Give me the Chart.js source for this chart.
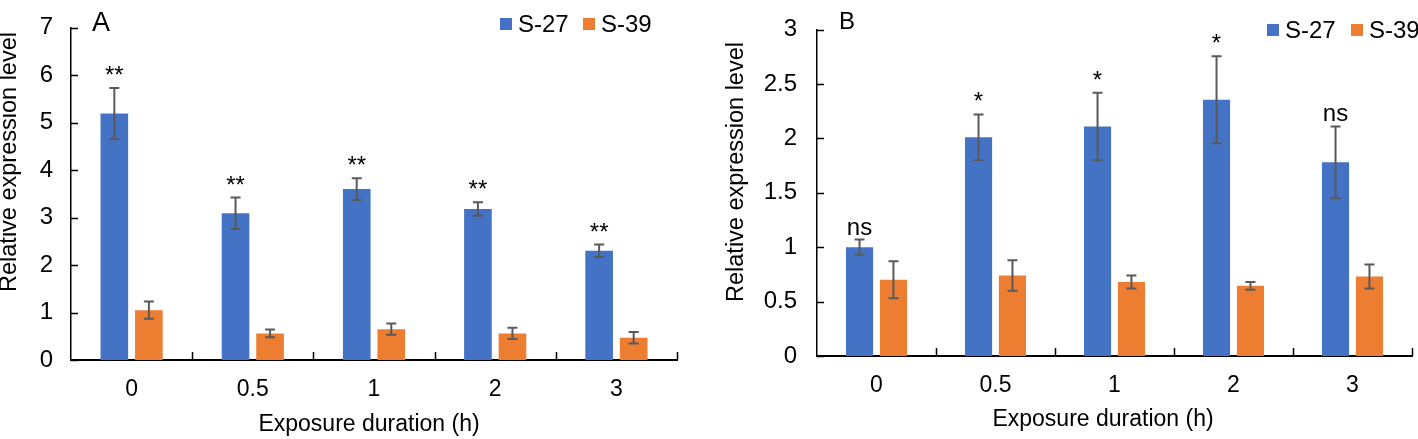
<!DOCTYPE html>
<html>
<head>
<meta charset="utf-8">
<script src="https://cdn.jsdelivr.net/npm/chart.js@4.4.1/dist/chart.umd.min.js"></script>
<style>
  html, body { margin: 0; padding: 0; background: #fff; }
  #wrap { position: relative; width: 1418px; height: 439px; overflow: hidden; }
  .panel { position: absolute; top: 0; height: 439px; }
</style>
</head>
<body>
<div id="wrap">
  <div class="panel" style="left:0;width:708px"><canvas id="chartA"></canvas></div>
  <div class="panel" style="left:708px;width:710px"><canvas id="chartB"></canvas></div>
</div>
<script>
// data
const categories = ['0', '0.5', '1', '2', '3'];
const seriesNames = ['S-27', 'S-39'];

const s27A = [5.19, 3.09, 3.60, 3.18, 2.30];
const s27AErr = [0.54, 0.33, 0.23, 0.14, 0.13];
const s39A = [1.05, 0.56, 0.65, 0.56, 0.47];
const s39AErr = [0.18, 0.08, 0.12, 0.12, 0.12];
const sigA = ['**', '**', '**', '**', '**'];

const s27B = [1.00, 2.01, 2.11, 2.355, 1.78];
const s27BErr = [0.07, 0.21, 0.31, 0.40, 0.33];
const s39B = [0.70, 0.74, 0.68, 0.645, 0.73];
const s39BErr = [0.17, 0.14, 0.06, 0.035, 0.11];
const sigB = ['ns', '*', '*', '*', 'ns'];

const yMaxA = 7, yStepA = 1;
const yMaxB = 3, yStepB = 0.5;

const FONT = "'Liberation Sans', Arial, sans-serif";
const BLUE = '#4472C4', ORANGE = '#ED7D31', ERR = '#595959';

// error bars + significance marks
const errorBars = {
    id: 'errorBars',
    afterDatasetsDraw(chart) {
        const { ctx } = chart;
        const y = chart.scales.y;
        ctx.save();
        chart.data.datasets.forEach((ds, di) => {
            const meta = chart.getDatasetMeta(di);
            meta.data.forEach((bar, i) => {
                const v = ds.data[i], e = ds.errors[i];
                const top = y.getPixelForValue(v + e);
                const bot = y.getPixelForValue(v - e);
                ctx.strokeStyle = ERR;
                ctx.lineWidth = 2;
                ctx.beginPath();
                ctx.moveTo(bar.x, top); ctx.lineTo(bar.x, bot);
                ctx.moveTo(bar.x - 5, top); ctx.lineTo(bar.x + 5, top);
                ctx.moveTo(bar.x - 5, bot); ctx.lineTo(bar.x + 5, bot);
                ctx.stroke();
                if (ds.sig) {
                    ctx.fillStyle = '#000';
                    ctx.font = `24px ${FONT}`;
                    ctx.textAlign = 'center';
                    ctx.textBaseline = 'alphabetic';
                    ctx.fillText(ds.sig[i], bar.x, top - 5);
                }
            });
        });
        ctx.restore();
    }
};

// inside tick marks, panel letter, axis titles, legend
const decor = {
    id: 'decor',
    afterDraw(chart, args, opts) {
        const { ctx, chartArea: area } = chart;
        const y = chart.scales.y;
        ctx.save();
        ctx.strokeStyle = '#000';
        ctx.lineWidth = 1.5;
        ctx.beginPath();
        y.ticks.forEach((t, i) => {
            const py = Math.round(y.getPixelForTick(i)) + 0.5;
            ctx.moveTo(area.left, py); ctx.lineTo(area.left + 7, py);
        });
        const n = categories.length;
        for (let i = 1; i <= n; i++) {
            const px = Math.round(area.left + i * (area.right - area.left) / n) + 0.5;
            ctx.moveTo(px, area.bottom); ctx.lineTo(px, area.bottom - 8);
        }
        ctx.stroke();

        ctx.fillStyle = '#000';
        ctx.textAlign = 'left';
        ctx.textBaseline = 'alphabetic';
        ctx.font = `${opts.letterSize}px ${FONT}`;
        ctx.fillText(opts.letter, opts.letterX, opts.letterY);

        ctx.font = `23px ${FONT}`;
        ctx.textAlign = 'center';
        ctx.textBaseline = 'middle';
        ctx.fillText('Exposure duration (h)', opts.xTitleX, opts.xTitleY);
        ctx.save();
        ctx.translate(opts.yTitleX, opts.yTitleY);
        ctx.rotate(-Math.PI / 2);
        ctx.font = `23.5px ${FONT}`;
        ctx.fillText('Relative expression level', 0, 0);
        ctx.restore();

        ctx.font = `24px ${FONT}`;
        ctx.textAlign = 'left';
        chart.data.datasets.forEach((ds, i) => {
            const lx = opts.legendX[i];
            ctx.fillStyle = ds.backgroundColor;
            ctx.fillRect(lx, opts.legendY - 6, 12, 12);
            ctx.fillStyle = '#000';
            ctx.fillText(ds.label, lx + 18, opts.legendY + 1);
        });
        ctx.restore();
    }
};

function makeChart(id, s27, s27Err, s39, s39Err, sig, yMax, yStep, lay) {
    return new Chart(document.getElementById(id), {
        type: 'bar',
        plugins: [errorBars, decor],
        data: {
            labels: categories,
            datasets: [
                { label: seriesNames[0], data: s27, errors: s27Err, sig: sig, backgroundColor: BLUE,
                  barPercentage: 0.8, categoryPercentage: 0.57 },
                { label: seriesNames[1], data: s39, errors: s39Err, backgroundColor: ORANGE,
                  barPercentage: 0.8, categoryPercentage: 0.57 }
            ]
        },
        options: {
            animation: false,
            responsive: true,
            maintainAspectRatio: false,
            layout: { padding: lay.padding },
            plugins: {
                legend: { display: false },
                tooltip: { enabled: false },
                decor: lay.decor
            },
            scales: {
                x: {
                    afterFit: s => { s.height = lay.xHeight; },
                    grid: { display: false, drawTicks: false },
                    border: { display: true, color: '#000', width: 2 },
                    ticks: { color: '#000', padding: 16, font: { family: FONT, size: 23 } }
                },
                y: {
                    min: 0, max: yMax,
                    afterFit: s => { s.width = lay.yWidth; },
                    grid: { display: false, drawTicks: false },
                    border: { display: true, color: '#000', width: 1.5 },
                    ticks: { stepSize: yStep, color: '#000', padding: lay.yPad,
                             callback: v => String(v),
                             font: { family: FONT, size: 24, lineHeight: 0.8 } }
                }
            }
        }
    });
}

makeChart('chartA', s27A, s27AErr, s39A, s39AErr, sigA, yMaxA, yStepA, {
    padding: { left: 0, top: 14, right: 31, bottom: 0 },
    xHeight: 79, yWidth: 71, yPad: 18,
    decor: { letter: 'A', letterSize: 27, letterX: 92, letterY: 31,
             xTitleX: 369, xTitleY: 425, yTitleX: 10, yTitleY: 162,
             legendX: [500, 583], legendY: 24 }
});

makeChart('chartB', s27B, s27BErr, s39B, s39BErr, sigB, yMaxB, yStepB, {
    padding: { left: 0, top: 11, right: 6, bottom: 0 },
    xHeight: 83, yWidth: 109, yPad: 20,
    decor: { letter: 'B', letterSize: 24, letterX: 131, letterY: 29,
             xTitleX: 395, xTitleY: 420, yTitleX: 29, yTitleY: 172,
             legendX: [559, 643], legendY: 30 }
});
</script>
</body>
</html>
